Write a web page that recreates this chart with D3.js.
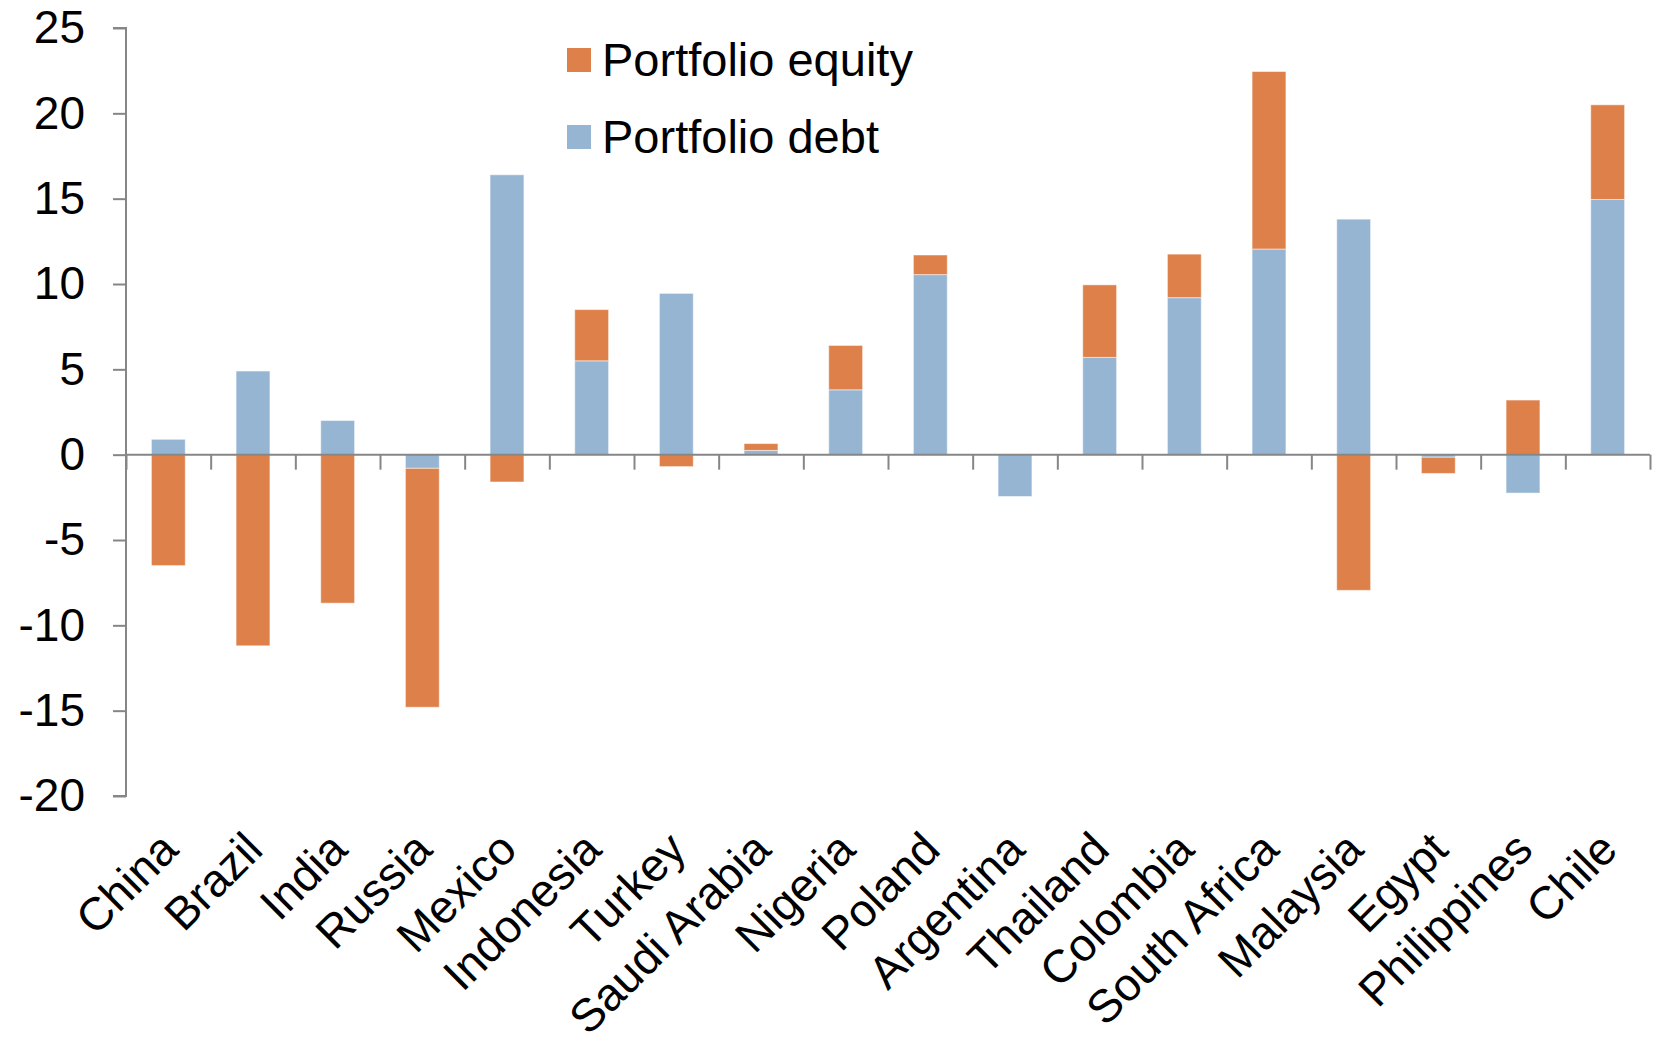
<!DOCTYPE html>
<html>
<head>
<meta charset="utf-8">
<script src="https://cdn.jsdelivr.net/npm/d3@7"></script>
<style>
  body { margin: 0; background: #fff; }
  text { font-family: "Liberation Sans", Arial, sans-serif; fill: #000; }
</style>
</head>
<body>
<script>
// countries along the x axis
var countries = ["China", "Brazil", "India", "Russia", "Mexico", "Indonesia", "Turkey",
    "Saudi Arabia", "Nigeria", "Poland", "Argentina", "Thailand", "Colombia",
    "South Africa", "Malaysia", "Egypt", "Philippines", "Chile"];

// values
var portfolioDebt = [0.9, 4.9, 2.0, -0.8, 16.4, 5.5, 9.45, 0.25, 3.8, 10.55, -2.45, 5.7,
    9.2, 12.05, 13.8, -0.15, -2.25, 14.95];
var portfolioEquity = [-6.5, -11.2, -8.7, -14.0, -1.6, 3.0, -0.7, 0.4, 2.6, 1.15, 0, 4.25,
    2.55, 10.4, -7.95, -0.95, 3.2, 5.55];

var seriesNames = ["Portfolio debt", "Portfolio equity"];
var legendItems = ["Portfolio equity", "Portfolio debt"];
var yTicks = [-20, -15, -10, -5, 0, 5, 10, 15, 20, 25];

var colors = {"Portfolio debt": "#95B5D3", "Portfolio equity": "#DE8049"};

var width = 1660, height = 1045;
var plotLeft = 126, plotRight = 1650, plotTop = 28, plotBottom = 796;

var svg = d3.select("body").append("svg")
    .attr("width", width)
    .attr("height", height);

var rows = countries.map(function (c, i) {
    return {country: c, "Portfolio debt": portfolioDebt[i], "Portfolio equity": portfolioEquity[i]};
});

var stack = d3.stack()
    .keys(seriesNames)
    .offset(d3.stackOffsetDiverging);
var layers = stack(rows);

var x = d3.scaleBand()
    .domain(countries)
    .range([plotLeft, plotRight])
    .paddingInner(0.6)
    .paddingOuter(0.3);

var y = d3.scaleLinear()
    .domain([-20, 25])
    .range([plotBottom, plotTop]);

// bars
svg.append("g").selectAll("g")
    .data(layers)
    .enter()
    .append("g")
    .attr("fill", function (d) { return colors[d.key]; })
    .selectAll("rect")
    .data(function (d) { return d; })
    .enter()
    .append("rect")
    .attr("x", function (d) { return x(d.data.country); })
    .attr("width", x.bandwidth())
    .attr("y", function (d) { return y(Math.max(d[0], d[1])); })
    .attr("height", function (d) { return Math.abs(y(d[0]) - y(d[1])); })
    .attr("stroke", "#fff")
    .attr("stroke-opacity", 0.5)
    .attr("stroke-width", 1);

// y axis (plain hyphen for negatives, like the original)
var yAxis = d3.axisLeft(y)
    .tickValues(yTicks)
    .tickSize(13)
    .tickPadding(28)
    .tickFormat(function (d) { return String(d); });
var yAxisGroup = svg.append("g")
    .attr("transform", "translate(" + plotLeft + ",0)")
    .call(yAxis);
yAxisGroup.select(".domain").attr("stroke", "#868686").attr("stroke-width", 2)
    .attr("d", "M-13," + y(25) + "H0V" + y(-20) + "H-13");
yAxisGroup.selectAll(".tick line").attr("stroke", "#868686").attr("stroke-width", 2);
yAxisGroup.selectAll(".tick text")
    .attr("font-size", 46)
    .attr("font-family", "Liberation Sans, Arial, sans-serif")
    .attr("fill", "#000");

// x axis: tick marks sit between the categories
var edge = d3.scaleLinear()
    .domain([0, countries.length])
    .range([plotLeft, plotRight]);
var xAxis = d3.axisBottom(edge)
    .tickValues(d3.range(0, countries.length + 1))
    .tickSize(15)
    .tickFormat("");
var xAxisGroup = svg.append("g")
    .attr("transform", "translate(0," + y(0) + ")")
    .call(xAxis);
xAxisGroup.select(".domain").attr("stroke", "#868686").attr("stroke-width", 2)
    .attr("d", "M" + plotLeft + ",0H" + plotRight);
xAxisGroup.selectAll(".tick line").attr("stroke", "#868686").attr("stroke-width", 2);

// category labels, below the plot area
svg.append("g").selectAll("text")
    .data(countries)
    .enter()
    .append("text")
    .attr("text-anchor", "end")
    .attr("font-size", 46)
    .attr("transform", function (d) {
        return "translate(" + (x(d) + x.bandwidth() / 2 + 12) + "," + (plotBottom + 56) + ") rotate(-45)";
    })
    .text(function (d) { return d; });

// legend
var legend = svg.append("g").selectAll("g")
    .data(legendItems)
    .enter()
    .append("g")
    .attr("transform", function (d, i) { return "translate(567," + (48 + i * 77) + ")"; });
legend.append("rect")
    .attr("width", 24)
    .attr("height", 24)
    .attr("fill", function (d) { return colors[d]; });
legend.append("text")
    .attr("x", 35)
    .attr("y", 28)
    .attr("font-size", 47)
    .text(function (d) { return d; });
</script>
</body>
</html>
